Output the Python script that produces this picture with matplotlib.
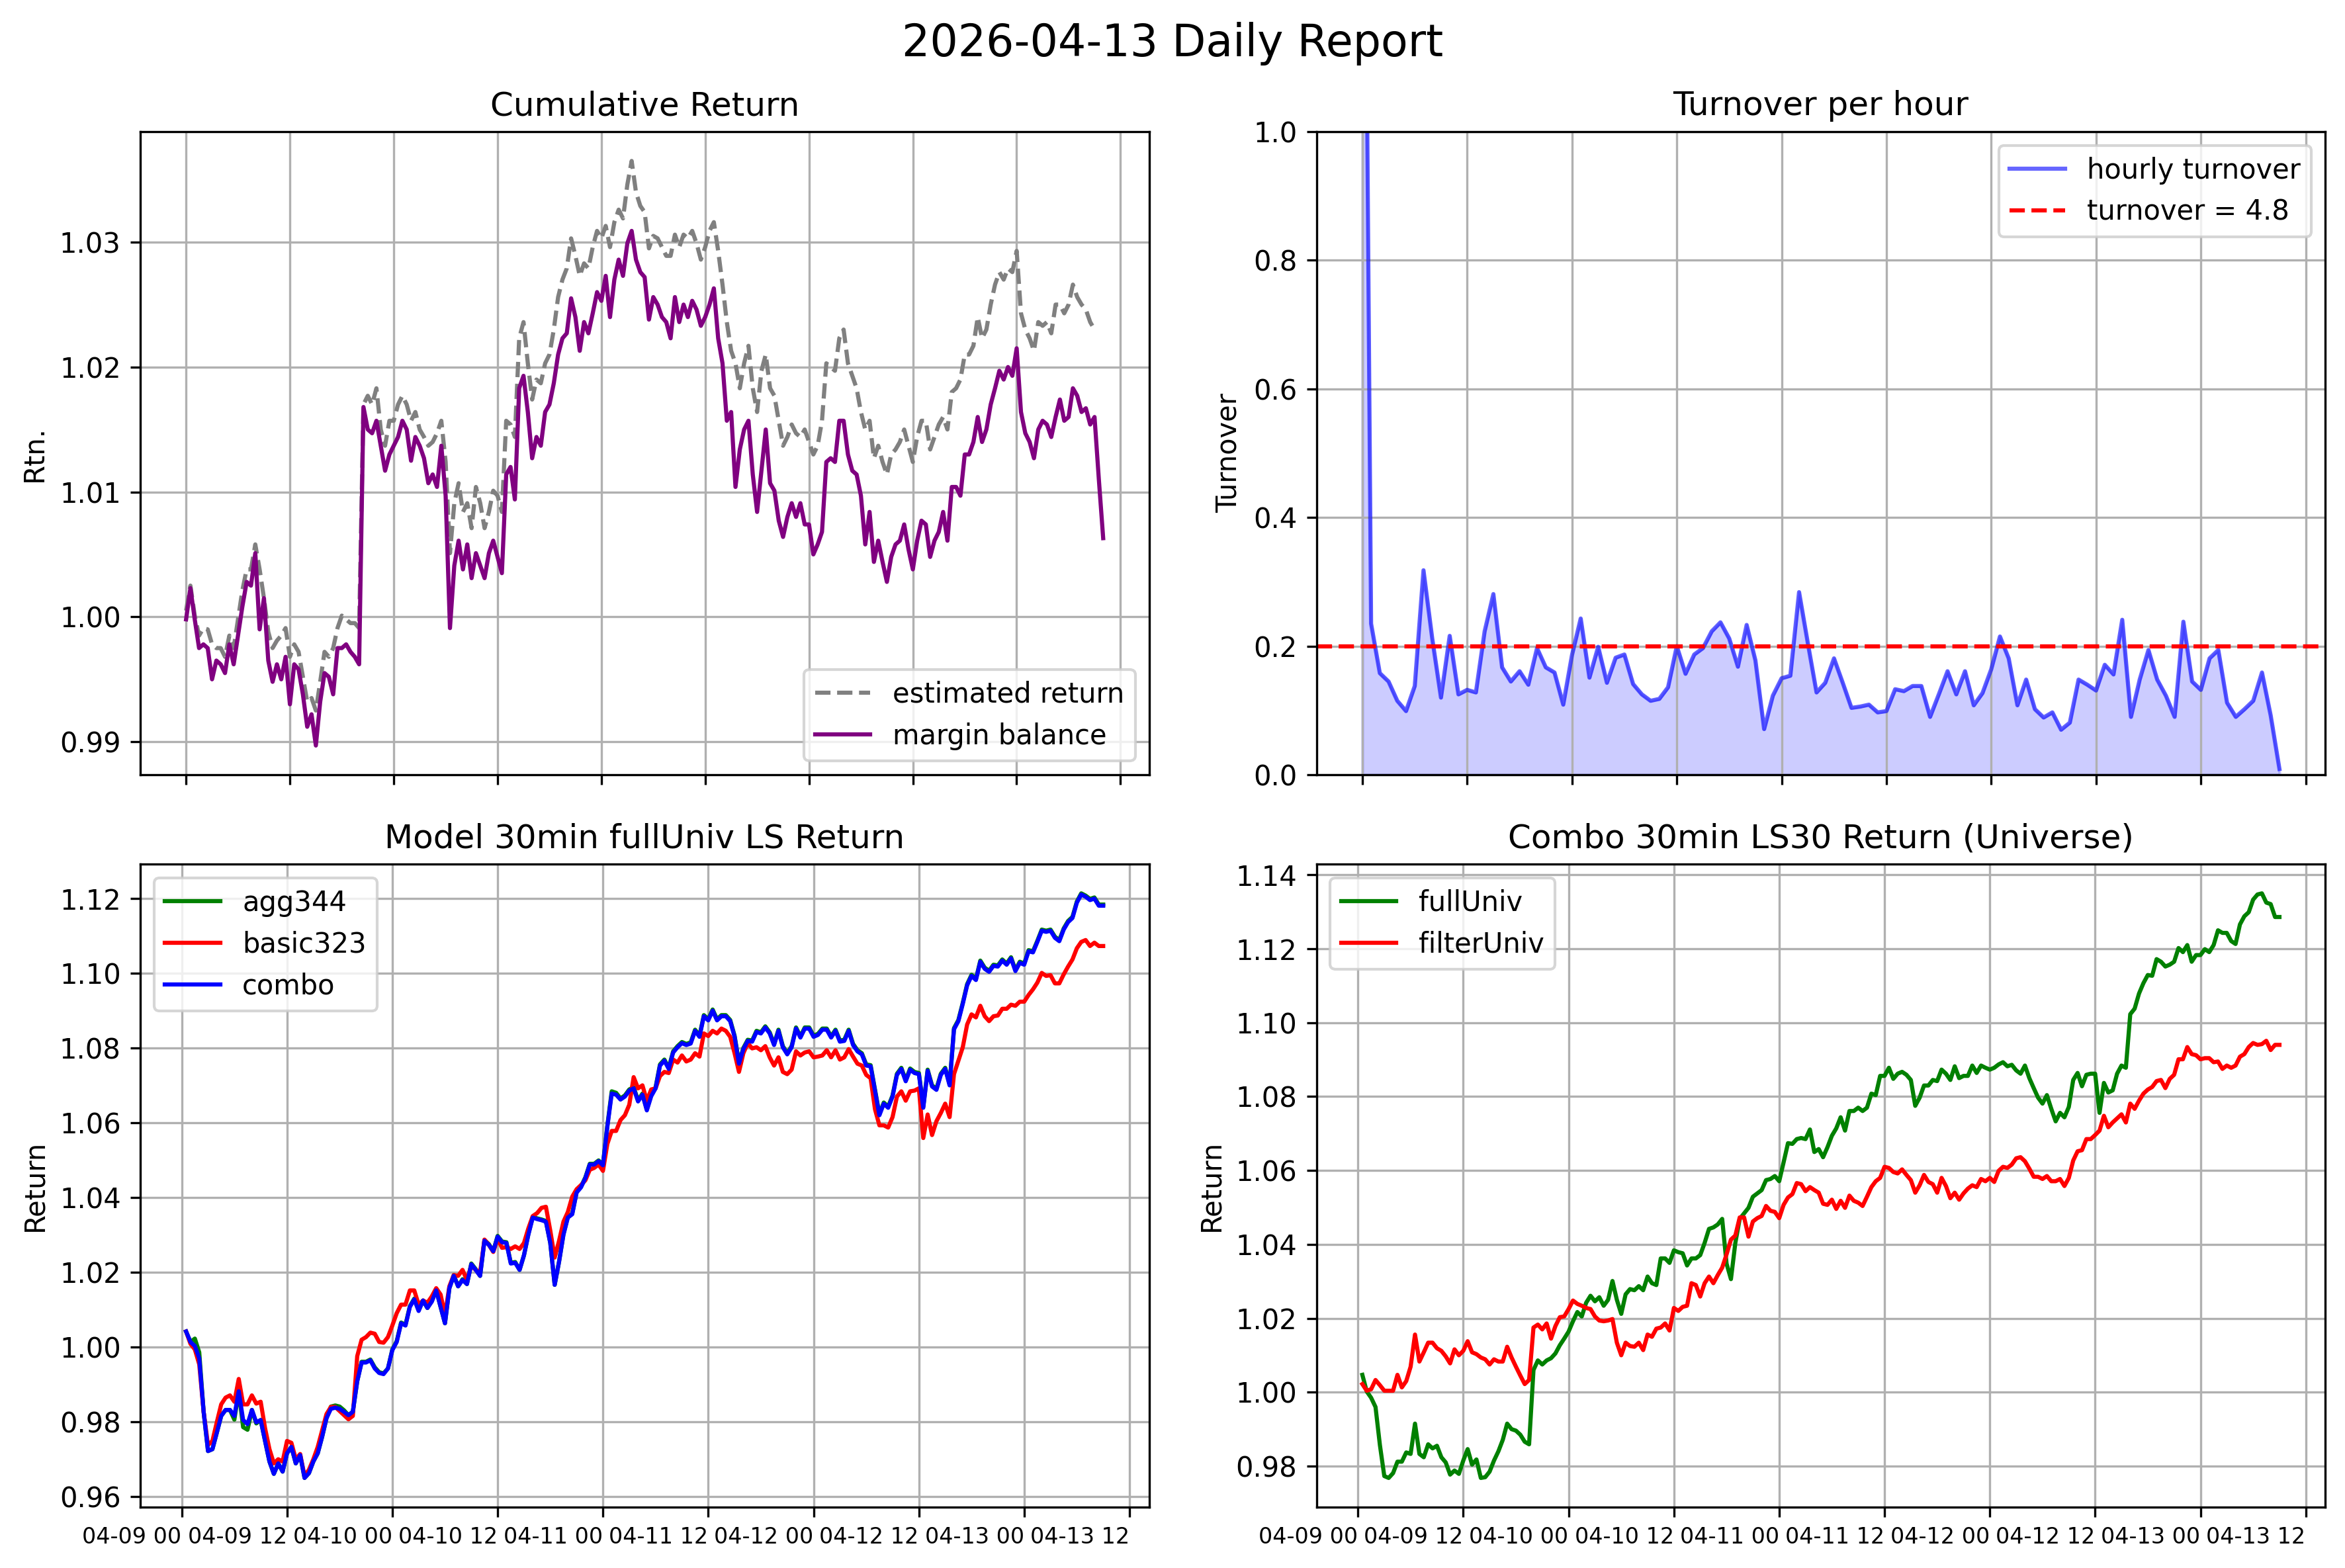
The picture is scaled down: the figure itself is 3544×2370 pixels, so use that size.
import numpy as np
import pandas as pd
import matplotlib
matplotlib.use("Agg")
import matplotlib.pyplot as plt
import matplotlib.dates as mdates

## params to control plot
myparams = {
    'font.family'     : 'DejaVu Sans',
    'axes.titlesize'  : 12,
    'axes.labelsize'  : 10,
    'ytick.labelsize' : 10,
    'legend.fontsize' : 10,
    'lines.linewidth' : 1.5,
}
plt.rcParams.update(myparams)

report_date = "2026-04-13"

## cumulative return, 30min samples from 04-09 00:00
estimated_return = [
    1.0005, 1.0025, 1.0001, 0.9985, 0.9991, 0.9990, 0.9978, 0.9975, 0.9975, 0.9968,
    0.9985, 0.9975, 0.9998, 1.0021, 1.0038, 1.0038, 1.0058, 1.0038, 1.0015, 0.9988,
    0.9975, 0.9981, 0.9985, 0.9991, 0.9968, 0.9978, 0.9972, 0.9952, 0.9932, 0.9935,
    0.9925, 0.9948, 0.9972, 0.9968, 0.9975, 0.9991, 1.0001, 0.9998, 0.9995, 0.9995,
    0.9991, 1.0170, 1.0177, 1.0170, 1.0183, 1.0150, 1.0137, 1.0157, 1.0157, 1.0170,
    1.0177, 1.0170, 1.0157, 1.0164, 1.0150, 1.0144, 1.0137, 1.0140, 1.0147, 1.0157,
    1.0124, 1.0051, 1.0091, 1.0107, 1.0084, 1.0091, 1.0071, 1.0104, 1.0091, 1.0071,
    1.0084, 1.0101, 1.0097, 1.0084, 1.0157, 1.0154, 1.0144, 1.0223, 1.0236, 1.0203,
    1.0174, 1.0190, 1.0187, 1.0203, 1.0210, 1.0230, 1.0256, 1.0270, 1.0279, 1.0303,
    1.0289, 1.0273, 1.0283, 1.0279, 1.0296, 1.0309, 1.0303, 1.0313, 1.0296, 1.0316,
    1.0326, 1.0319, 1.0346, 1.0365, 1.0340, 1.0329, 1.0324, 1.0295, 1.0305, 1.0303,
    1.0296, 1.0289, 1.0289, 1.0306, 1.0296, 1.0306, 1.0303, 1.0309, 1.0299, 1.0286,
    1.0296, 1.0309, 1.0316, 1.0293, 1.0266, 1.0236, 1.0213, 1.0203, 1.0183, 1.0203,
    1.0217, 1.0183, 1.0164, 1.0197, 1.0210, 1.0183, 1.0177, 1.0157, 1.0137, 1.0144,
    1.0154, 1.0147, 1.0144, 1.0150, 1.0140, 1.0130, 1.0137, 1.0157, 1.0203, 1.0200,
    1.0197, 1.0223, 1.0230, 1.0203, 1.0193, 1.0183, 1.0164, 1.0150, 1.0157, 1.0127,
    1.0137, 1.0124, 1.0114, 1.0130, 1.0134, 1.0140, 1.0150, 1.0137, 1.0124, 1.0144,
    1.0157, 1.0157, 1.0134, 1.0144, 1.0154, 1.0160, 1.0150, 1.0180, 1.0183, 1.0190,
    1.0210, 1.0210, 1.0217, 1.0240, 1.0223, 1.0230, 1.0250, 1.0266, 1.0276, 1.0270,
    1.0279, 1.0276, 1.0293, 1.0243, 1.0230, 1.0223, 1.0213, 1.0236, 1.0233, 1.0236,
    1.0227, 1.0250, 1.0250, 1.0243, 1.0250, 1.0266, 1.0256, 1.0250, 1.0246, 1.0236,
    1.0230,
]
margin_balance = [
    0.9998, 1.0023, 0.9998, 0.9975, 0.9978, 0.9975, 0.9950, 0.9965, 0.9962, 0.9955,
    0.9978, 0.9962, 0.9985, 1.0008, 1.0028, 1.0025, 1.0051, 0.9990, 1.0015, 0.9965,
    0.9948, 0.9962, 0.9950, 0.9968, 0.9930, 0.9962, 0.9958, 0.9938, 0.9912, 0.9922,
    0.9897, 0.9932, 0.9955, 0.9952, 0.9938, 0.9975, 0.9975, 0.9978, 0.9972, 0.9968,
    0.9962, 1.0168, 1.0150, 1.0147, 1.0157, 1.0137, 1.0117, 1.0130, 1.0137, 1.0144,
    1.0157, 1.0150, 1.0125, 1.0144, 1.0137, 1.0127, 1.0107, 1.0114, 1.0104, 1.0137,
    1.0097, 0.9991, 1.0041, 1.0061, 1.0038, 1.0058, 1.0031, 1.0051, 1.0041, 1.0031,
    1.0051, 1.0061, 1.0048, 1.0035, 1.0114, 1.0120, 1.0094, 1.0183, 1.0193, 1.0164,
    1.0127, 1.0144, 1.0137, 1.0164, 1.0170, 1.0187, 1.0210, 1.0223, 1.0227, 1.0255,
    1.0240, 1.0213, 1.0236, 1.0227, 1.0243, 1.0260, 1.0253, 1.0273, 1.0240, 1.0270,
    1.0286, 1.0273, 1.0299, 1.0309, 1.0286, 1.0276, 1.0272, 1.0238, 1.0256, 1.0250,
    1.0240, 1.0236, 1.0223, 1.0256, 1.0236, 1.0250, 1.0240, 1.0253, 1.0246, 1.0233,
    1.0240, 1.0250, 1.0263, 1.0223, 1.0203, 1.0157, 1.0164, 1.0104, 1.0134, 1.0150,
    1.0157, 1.0114, 1.0084, 1.0117, 1.0150, 1.0107, 1.0101, 1.0077, 1.0064, 1.0080,
    1.0091, 1.0080, 1.0091, 1.0074, 1.0074, 1.0050, 1.0058, 1.0068, 1.0124, 1.0127,
    1.0124, 1.0157, 1.0157, 1.0130, 1.0117, 1.0114, 1.0097, 1.0058, 1.0084, 1.0044,
    1.0061, 1.0044, 1.0028, 1.0048, 1.0058, 1.0061, 1.0074, 1.0054, 1.0038, 1.0061,
    1.0077, 1.0074, 1.0048, 1.0061, 1.0068, 1.0084, 1.0061, 1.0104, 1.0104, 1.0097,
    1.0130, 1.0130, 1.0140, 1.0160, 1.0140, 1.0150, 1.0170, 1.0183, 1.0197, 1.0190,
    1.0200, 1.0193, 1.0215, 1.0164, 1.0147, 1.0140, 1.0127, 1.0150, 1.0157, 1.0154,
    1.0144, 1.0160, 1.0174, 1.0157, 1.0160, 1.0183, 1.0177, 1.0164, 1.0167, 1.0154,
    1.0160, 1.0110, 1.0063,
]

## hourly turnover from 04-09 00:00
hourly_turnover = [
    2.000, 0.235, 0.158, 0.145, 0.115, 0.099, 0.138, 0.318, 0.212, 0.120,
    0.216, 0.125, 0.132, 0.128, 0.223, 0.281, 0.167, 0.145, 0.161, 0.140,
    0.197, 0.167, 0.159, 0.109, 0.186, 0.243, 0.151, 0.199, 0.143, 0.182,
    0.187, 0.141, 0.125, 0.115, 0.118, 0.136, 0.200, 0.157, 0.187, 0.197,
    0.223, 0.237, 0.212, 0.168, 0.233, 0.178, 0.071, 0.123, 0.150, 0.154,
    0.284, 0.205, 0.128, 0.143, 0.181, 0.143, 0.104, 0.106, 0.109, 0.097,
    0.099, 0.133, 0.130, 0.138, 0.138, 0.090, 0.125, 0.161, 0.125, 0.161,
    0.108, 0.127, 0.164, 0.215, 0.181, 0.108, 0.148, 0.102, 0.089, 0.097,
    0.070, 0.081, 0.148, 0.140, 0.131, 0.171, 0.156, 0.241, 0.090, 0.148,
    0.194, 0.148, 0.123, 0.090, 0.238, 0.145, 0.132, 0.181, 0.194, 0.112,
    0.090, 0.102, 0.115, 0.159, 0.092, 0.009,
]
turnover_target = 4.8

## model 30min fullUniv LS return, 30min samples from 04-09 00:30
agg344 = [
    1.0041, 1.0013, 1.0022, 0.9985, 0.9826, 0.9721, 0.9726, 0.9770, 0.9815, 0.9831,
    0.9831, 0.9805, 0.9881, 0.9785, 0.9778, 0.9831, 0.9795, 0.9804, 0.9748, 0.9693,
    0.9660, 0.9688, 0.9666, 0.9715, 0.9732, 0.9688, 0.9710, 0.9649, 0.9662, 0.9693,
    0.9715, 0.9759, 0.9809, 0.9840, 0.9843, 0.9840, 0.9830, 0.9817, 0.9826, 0.9908,
    0.9960, 0.9960, 0.9966, 0.9945, 0.9932, 0.9929, 0.9942, 0.9993, 1.0015, 1.0065,
    1.0059, 1.0109, 1.0129, 1.0098, 1.0124, 1.0104, 1.0123, 1.0153, 1.0107, 1.0063,
    1.0157, 1.0192, 1.0162, 1.0181, 1.0168, 1.0223, 1.0208, 1.0190, 1.0286, 1.0275,
    1.0256, 1.0297, 1.0282, 1.0280, 1.0225, 1.0227, 1.0206, 1.0245, 1.0302, 1.0348,
    1.0344, 1.0341, 1.0337, 1.0278, 1.0166, 1.0228, 1.0302, 1.0348, 1.0357, 1.0415,
    1.0429, 1.0454, 1.0490, 1.0490, 1.0499, 1.0488, 1.0592, 1.0684, 1.0680, 1.0665,
    1.0673, 1.0689, 1.0695, 1.0660, 1.0678, 1.0636, 1.0674, 1.0695, 1.0756, 1.0769,
    1.0747, 1.0791, 1.0805, 1.0816, 1.0811, 1.0815, 1.0849, 1.0833, 1.0888, 1.0877,
    1.0903, 1.0877, 1.0888, 1.0888, 1.0875, 1.0833, 1.0761, 1.0800, 1.0822, 1.0820,
    1.0846, 1.0842, 1.0858, 1.0842, 1.0811, 1.0849, 1.0805, 1.0786, 1.0805, 1.0855,
    1.0831, 1.0855, 1.0855, 1.0833, 1.0838, 1.0852, 1.0852, 1.0831, 1.0849, 1.0820,
    1.0822, 1.0849, 1.0811, 1.0794, 1.0786, 1.0756, 1.0754, 1.0689, 1.0623, 1.0654,
    1.0643, 1.0673, 1.0731, 1.0747, 1.0714, 1.0745, 1.0736, 1.0733, 1.0643, 1.0742,
    1.0700, 1.0691, 1.0731, 1.0747, 1.0703, 1.0853, 1.0875, 1.0921, 1.0971, 1.0996,
    1.0985, 1.1034, 1.1015, 1.1007, 1.1023, 1.1021, 1.1037, 1.1026, 1.1043, 1.1009,
    1.1031, 1.1026, 1.1062, 1.1059, 1.1087, 1.1117, 1.1114, 1.1117, 1.1098, 1.1089,
    1.1120, 1.1140, 1.1151, 1.1192, 1.1214, 1.1208, 1.1199, 1.1203, 1.1184, 1.1184,
]
basic323 = [
    1.0041, 1.0008, 0.9993, 0.9953, 0.9826, 0.9737, 0.9748, 0.9798, 0.9846, 0.9864,
    0.9870, 0.9853, 0.9914, 0.9846, 0.9846, 0.9870, 0.9848, 0.9853, 0.9782, 0.9726,
    0.9688, 0.9699, 0.9693, 0.9748, 0.9743, 0.9699, 0.9713, 0.9654, 0.9671, 0.9699,
    0.9732, 0.9776, 0.9820, 0.9839, 0.9839, 0.9828, 0.9817, 0.9806, 0.9815, 0.9975,
    1.0019, 1.0026, 1.0038, 1.0035, 1.0013, 1.0011, 1.0026, 1.0057, 1.0090, 1.0113,
    1.0113, 1.0151, 1.0151, 1.0113, 1.0124, 1.0118, 1.0135, 1.0157, 1.0140, 1.0085,
    1.0162, 1.0192, 1.0190, 1.0206, 1.0179, 1.0217, 1.0206, 1.0199, 1.0287, 1.0273,
    1.0254, 1.0289, 1.0265, 1.0267, 1.0262, 1.0269, 1.0262, 1.0278, 1.0317, 1.0350,
    1.0358, 1.0372, 1.0375, 1.0311, 1.0239, 1.0284, 1.0335, 1.0361, 1.0402, 1.0422,
    1.0433, 1.0446, 1.0474, 1.0479, 1.0488, 1.0471, 1.0543, 1.0578, 1.0578, 1.0607,
    1.0620, 1.0648, 1.0722, 1.0692, 1.0700, 1.0659, 1.0689, 1.0692, 1.0725, 1.0736,
    1.0733, 1.0769, 1.0761, 1.0780, 1.0764, 1.0769, 1.0786, 1.0777, 1.0839, 1.0832,
    1.0846, 1.0839, 1.0852, 1.0846, 1.0830, 1.0786, 1.0736, 1.0786, 1.0813, 1.0799,
    1.0802, 1.0794, 1.0805, 1.0775, 1.0753, 1.0775, 1.0736, 1.0730, 1.0742, 1.0791,
    1.0780, 1.0788, 1.0791, 1.0775, 1.0777, 1.0780, 1.0794, 1.0775, 1.0794, 1.0769,
    1.0775, 1.0797, 1.0777, 1.0758, 1.0753, 1.0728, 1.0719, 1.0636, 1.0593, 1.0593,
    1.0587, 1.0615, 1.0670, 1.0684, 1.0659, 1.0684, 1.0686, 1.0692, 1.0559, 1.0622,
    1.0567, 1.0604, 1.0626, 1.0651, 1.0615, 1.0730, 1.0766, 1.0802, 1.0863, 1.0890,
    1.0882, 1.0913, 1.0885, 1.0872, 1.0885, 1.0887, 1.0905, 1.0905, 1.0916, 1.0913,
    1.0924, 1.0924, 1.0942, 1.0957, 1.0975, 1.1001, 1.0993, 1.0995, 1.0973, 1.0973,
    1.0997, 1.1018, 1.1037, 1.1067, 1.1084, 1.1089, 1.1073, 1.1082, 1.1073, 1.1073,
]
combo = [
    1.0041, 1.0013, 1.0002, 0.9969, 0.9826, 0.9721, 0.9726, 0.9770, 0.9815, 0.9831,
    0.9831, 0.9815, 0.9881, 0.9804, 0.9793, 0.9831, 0.9798, 0.9804, 0.9748, 0.9693,
    0.9660, 0.9688, 0.9666, 0.9715, 0.9732, 0.9688, 0.9710, 0.9649, 0.9662, 0.9693,
    0.9715, 0.9759, 0.9809, 0.9834, 0.9837, 0.9834, 0.9826, 0.9817, 0.9826, 0.9908,
    0.9958, 0.9958, 0.9964, 0.9942, 0.9930, 0.9927, 0.9942, 0.9991, 1.0013, 1.0063,
    1.0057, 1.0107, 1.0127, 1.0096, 1.0124, 1.0104, 1.0121, 1.0151, 1.0107, 1.0063,
    1.0157, 1.0190, 1.0162, 1.0179, 1.0168, 1.0221, 1.0206, 1.0190, 1.0284, 1.0273,
    1.0256, 1.0295, 1.0280, 1.0278, 1.0223, 1.0225, 1.0206, 1.0245, 1.0300, 1.0346,
    1.0342, 1.0339, 1.0335, 1.0278, 1.0166, 1.0228, 1.0300, 1.0346, 1.0355, 1.0413,
    1.0427, 1.0452, 1.0488, 1.0488, 1.0497, 1.0486, 1.0589, 1.0678, 1.0675, 1.0662,
    1.0670, 1.0686, 1.0692, 1.0657, 1.0675, 1.0633, 1.0671, 1.0692, 1.0753, 1.0766,
    1.0744, 1.0788, 1.0802, 1.0813, 1.0808, 1.0812, 1.0846, 1.0830, 1.0885, 1.0874,
    1.0900, 1.0874, 1.0885, 1.0885, 1.0872, 1.0830, 1.0758, 1.0797, 1.0819, 1.0817,
    1.0843, 1.0839, 1.0855, 1.0839, 1.0808, 1.0846, 1.0802, 1.0783, 1.0802, 1.0852,
    1.0828, 1.0852, 1.0852, 1.0830, 1.0835, 1.0849, 1.0849, 1.0828, 1.0846, 1.0817,
    1.0819, 1.0846, 1.0808, 1.0791, 1.0783, 1.0753, 1.0751, 1.0686, 1.0620, 1.0651,
    1.0640, 1.0670, 1.0728, 1.0744, 1.0711, 1.0742, 1.0733, 1.0730, 1.0640, 1.0739,
    1.0697, 1.0688, 1.0728, 1.0744, 1.0700, 1.0850, 1.0872, 1.0918, 1.0968, 1.0993,
    1.0982, 1.1031, 1.1012, 1.1004, 1.1020, 1.1018, 1.1034, 1.1023, 1.1040, 1.1006,
    1.1028, 1.1023, 1.1059, 1.1056, 1.1084, 1.1114, 1.1111, 1.1114, 1.1095, 1.1086,
    1.1117, 1.1137, 1.1148, 1.1189, 1.1211, 1.1205, 1.1196, 1.1200, 1.1181, 1.1181,
]

## combo 30min LS30 return by universe, 30min samples from 04-09 00:30
full_univ = [
    1.0047, 1.0002, 0.9985, 0.9960, 0.9857, 0.9773, 0.9768, 0.9781, 0.9812, 0.9812,
    0.9837, 0.9833, 0.9915, 0.9833, 0.9824, 0.9859, 0.9848, 0.9855, 0.9824, 0.9810,
    0.9777, 0.9788, 0.9779, 0.9815, 0.9846, 0.9804, 0.9818, 0.9768, 0.9770, 0.9785,
    0.9815, 0.9840, 0.9871, 0.9915, 0.9900, 0.9896, 0.9885, 0.9866, 0.9859, 1.0060,
    1.0086, 1.0075, 1.0086, 1.0092, 1.0105, 1.0127, 1.0145, 1.0164, 1.0192, 1.0217,
    1.0205, 1.0242, 1.0261, 1.0246, 1.0257, 1.0234, 1.0250, 1.0301, 1.0250, 1.0212,
    1.0265, 1.0279, 1.0276, 1.0287, 1.0276, 1.0313, 1.0295, 1.0290, 1.0362, 1.0362,
    1.0350, 1.0384, 1.0379, 1.0376, 1.0343, 1.0362, 1.0362, 1.0371, 1.0404, 1.0442,
    1.0446, 1.0454, 1.0469, 1.0348, 1.0306, 1.0404, 1.0469, 1.0484, 1.0499, 1.0529,
    1.0538, 1.0547, 1.0574, 1.0577, 1.0585, 1.0571, 1.0622, 1.0674, 1.0672, 1.0685,
    1.0688, 1.0685, 1.0711, 1.0650, 1.0658, 1.0636, 1.0663, 1.0694, 1.0714, 1.0744,
    1.0708, 1.0761, 1.0761, 1.0770, 1.0761, 1.0770, 1.0808, 1.0804, 1.0856, 1.0856,
    1.0878, 1.0848, 1.0862, 1.0867, 1.0859, 1.0845, 1.0775, 1.0797, 1.0830, 1.0830,
    1.0845, 1.0842, 1.0873, 1.0862, 1.0845, 1.0882, 1.0850, 1.0856, 1.0856, 1.0884,
    1.0864, 1.0884, 1.0878, 1.0873, 1.0878, 1.0887, 1.0893, 1.0882, 1.0886, 1.0871,
    1.0862, 1.0884, 1.0850, 1.0823, 1.0797, 1.0781, 1.0804, 1.0767, 1.0733, 1.0756,
    1.0744, 1.0772, 1.0845, 1.0864, 1.0828, 1.0859, 1.0862, 1.0862, 1.0756, 1.0837,
    1.0811, 1.0817, 1.0862, 1.0884, 1.0878, 1.1023, 1.1038, 1.1079, 1.1107, 1.1129,
    1.1127, 1.1172, 1.1165, 1.1152, 1.1157, 1.1165, 1.1202, 1.1191, 1.1210, 1.1165,
    1.1183, 1.1183, 1.1199, 1.1191, 1.1210, 1.1250, 1.1243, 1.1243, 1.1221, 1.1213,
    1.1266, 1.1288, 1.1299, 1.1333, 1.1347, 1.1350, 1.1325, 1.1321, 1.1286, 1.1286,
]
filter_univ = [
    1.0022, 1.0004, 1.0008, 1.0033, 1.0019, 1.0004, 1.0004, 1.0004, 1.0047, 1.0013,
    1.0030, 1.0069, 1.0156, 1.0083, 1.0108, 1.0134, 1.0134, 1.0119, 1.0112, 1.0097,
    1.0078, 1.0116, 1.0100, 1.0112, 1.0138, 1.0108, 1.0103, 1.0094, 1.0089, 1.0075,
    1.0089, 1.0083, 1.0083, 1.0123, 1.0094, 1.0069, 1.0045, 1.0022, 1.0033, 1.0175,
    1.0183, 1.0170, 1.0186, 1.0145, 1.0179, 1.0203, 1.0205, 1.0225, 1.0248, 1.0239,
    1.0234, 1.0228, 1.0225, 1.0205, 1.0194, 1.0192, 1.0194, 1.0198, 1.0134, 1.0100,
    1.0134, 1.0125, 1.0123, 1.0134, 1.0114, 1.0156, 1.0150, 1.0172, 1.0175, 1.0186,
    1.0167, 1.0228, 1.0220, 1.0231, 1.0234, 1.0295, 1.0290, 1.0259, 1.0295, 1.0313,
    1.0295, 1.0317, 1.0337, 1.0373, 1.0413, 1.0424, 1.0473, 1.0473, 1.0421, 1.0462,
    1.0471, 1.0477, 1.0504, 1.0491, 1.0488, 1.0471, 1.0507, 1.0527, 1.0536, 1.0566,
    1.0563, 1.0544, 1.0555, 1.0547, 1.0540, 1.0510, 1.0507, 1.0521, 1.0496, 1.0518,
    1.0499, 1.0532, 1.0518, 1.0513, 1.0504, 1.0529, 1.0555, 1.0571, 1.0580, 1.0610,
    1.0607, 1.0596, 1.0592, 1.0603, 1.0588, 1.0574, 1.0540, 1.0560, 1.0588, 1.0569,
    1.0563, 1.0540, 1.0580, 1.0558, 1.0525, 1.0540, 1.0521, 1.0538, 1.0551, 1.0560,
    1.0555, 1.0577, 1.0571, 1.0580, 1.0569, 1.0599, 1.0610, 1.0607, 1.0616, 1.0633,
    1.0636, 1.0625, 1.0605, 1.0583, 1.0583, 1.0577, 1.0585, 1.0571, 1.0571, 1.0577,
    1.0558, 1.0580, 1.0627, 1.0652, 1.0655, 1.0685, 1.0685, 1.0696, 1.0708, 1.0748,
    1.0717, 1.0730, 1.0741, 1.0752, 1.0730, 1.0781, 1.0767, 1.0789, 1.0808, 1.0819,
    1.0826, 1.0842, 1.0845, 1.0823, 1.0848, 1.0859, 1.0901, 1.0901, 1.0934, 1.0915,
    1.0912, 1.0901, 1.0904, 1.0904, 1.0893, 1.0895, 1.0875, 1.0884, 1.0878, 1.0884,
    1.0908, 1.0915, 1.0934, 1.0945, 1.0940, 1.0942, 1.0951, 1.0926, 1.0940, 1.0940,
]


def time_index(start:str, n:int, freq:str) -> pd.DatetimeIndex:
    """ build a time axis for a series """
    return pd.date_range(start, periods=n, freq=freq)


def format_time_axis(ax, show_labels:bool) -> None:
    """ ticks every 12 hours, labels like 04-09 00 """
    ax.xaxis.set_major_locator(mdates.HourLocator(byhour=[0, 12]))
    ax.xaxis.set_major_formatter(mdates.DateFormatter("%m-%d %H"))
    if show_labels:
        ax.tick_params(axis="x", labelsize=8)
        for label in ax.get_xticklabels():
            label.set_ha("right")
    else:
        ax.tick_params(axis="x", labelbottom=False)
    ax.grid(True)


def draw_cumulative(ax) -> None:
    t_est = time_index("2026-04-09 00:00", len(estimated_return), "30min")
    t_mb = time_index("2026-04-09 00:00", len(margin_balance), "30min")
    ax.plot(t_est, estimated_return, "--", color="gray", label="estimated return")
    ax.plot(t_mb, margin_balance, color="purple", label="margin balance")
    ax.set_title("Cumulative Return")
    ax.set_ylabel("Rtn.")
    ax.legend(loc="lower right")
    format_time_axis(ax, False)


def draw_turnover(ax) -> None:
    t = time_index("2026-04-09 00:00", len(hourly_turnover), "1h")
    ax.plot(t, hourly_turnover, color="blue", alpha=0.6, label="hourly turnover")
    ax.fill_between(t, hourly_turnover, color="blue", alpha=0.2)
    ax.axhline(turnover_target / 24, color="red", linestyle="--",
               label="turnover = {}".format(turnover_target))
    ax.set_ylim(0, 1)
    ax.set_title("Turnover per hour")
    ax.set_ylabel("Turnover")
    ax.legend(loc="upper right")
    format_time_axis(ax, False)


def draw_model(ax) -> None:
    t = time_index("2026-04-09 00:30", len(combo), "30min")
    ax.plot(t, agg344, color="green", label="agg344")
    ax.plot(t, basic323, color="red", label="basic323")
    ax.plot(t, combo, color="blue", label="combo")
    ax.set_title("Model 30min fullUniv LS Return")
    ax.set_ylabel("Return")
    ax.legend(loc="upper left")
    format_time_axis(ax, True)


def draw_universe(ax) -> None:
    t = time_index("2026-04-09 00:30", len(full_univ), "30min")
    ax.plot(t, full_univ, color="green", label="fullUniv")
    ax.plot(t, filter_univ, color="red", label="filterUniv")
    ax.set_title("Combo 30min LS30 Return (Universe)")
    ax.set_ylabel("Return")
    ax.legend(loc="upper left")
    format_time_axis(ax, True)


def main():
    fig, axes = plt.subplots(2, 2, figsize=(3544 / 300, 2370 / 300), dpi=300)
    fig.subplots_adjust(left=0.0598, right=0.9916, bottom=0.0388, top=0.916,
                        wspace=0.166, hspace=0.139)
    fig.suptitle("{} Daily Report".format(report_date), fontsize=16, y=0.986)

    draw_cumulative(axes[0, 0])
    draw_turnover(axes[0, 1])
    draw_model(axes[1, 0])
    draw_universe(axes[1, 1])

    fig.savefig("out.png", dpi=300)


if __name__ == "__main__":
    main()
